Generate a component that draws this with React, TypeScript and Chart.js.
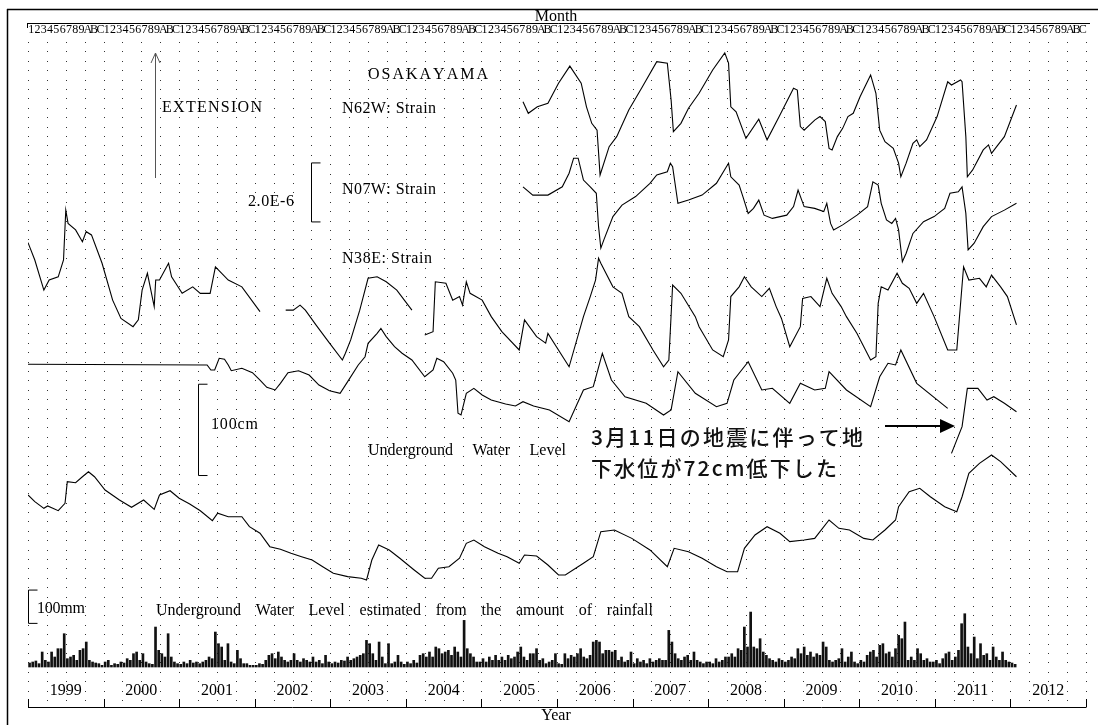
import React, { useEffect, useRef } from "react";
import { Chart, registerables } from "chart.js";

Chart.register(...registerables);

type Pt = [number, number | null];

// ---------- axis labels ----------
const YEAR_LABELS = [1999, 2000, 2001, 2002, 2003, 2004, 2005, 2006, 2007, 2008, 2009, 2010, 2011, 2012];
const MONTH_MARKS = ["1", "2", "3", "4", "5", "6", "7", "8", "9", "A", "B", "C"];

// ---------- strain series (x 1e-6, relative) : [decimal year, strain] ----------
const N62W_STRAIN: Pt[] = [
  [2005.55, 2.82], [2005.62, 2.43], [2005.74, 2.65], [2005.88, 2.77], [2006.02, 3.45], [2006.17, 4.03],
  [2006.32, 3.45], [2006.39, 2.65], [2006.46, 2.09], [2006.53, 1.86], [2006.57, 0.34], [2006.69, 1.3],
  [2006.79, 1.64], [2006.95, 2.54], [2007.13, 3.33], [2007.32, 4.18], [2007.46, 4.13], [2007.51, 2.88],
  [2007.54, 1.81], [2007.64, 2.09], [2007.74, 2.6], [2007.88, 3.11], [2008.06, 3.9], [2008.22, 4.48],
  [2008.27, 4.13], [2008.3, 2.65], [2008.37, 2.48], [2008.5, 1.58], [2008.67, 2.23], [2008.78, 1.53],
  [2008.94, 2.32], [2009.13, 3.28], [2009.18, 3.22], [2009.22, 1.98], [2009.27, 1.86], [2009.41, 2.2],
  [2009.48, 2.32], [2009.55, 2.15], [2009.6, 1.24], [2009.64, 1.19], [2009.71, 1.64], [2009.78, 1.92],
  [2009.85, 2.32], [2009.92, 2.43], [2010.01, 2.99], [2010.15, 3.73], [2010.22, 3.11], [2010.27, 1.86],
  [2010.34, 1.47], [2010.45, 1.24], [2010.52, 0.74], [2010.55, 0.28], [2010.62, 0.74], [2010.71, 1.41],
  [2010.76, 1.53], [2010.8, 1.3], [2010.89, 1.53], [2011.03, 2.32], [2011.17, 3.5], [2011.22, 3.39],
  [2011.34, 3.56], [2011.36, 3.5], [2011.41, 1.64], [2011.43, 0.28], [2011.5, 0.51], [2011.64, 1.19],
  [2011.71, 1.36], [2011.75, 1.07], [2011.8, 1.24], [2011.92, 1.64], [2012.08, 2.71],
];

const N07W_STRAIN: Pt[] = [
  [2005.55, 2.65], [2005.68, 2.37], [2005.88, 2.37], [2006.07, 2.65], [2006.16, 3.11], [2006.22, 3.62],
  [2006.28, 3.62], [2006.35, 2.88], [2006.44, 2.65], [2006.52, 2.43], [2006.55, 1.3], [2006.58, 0.57],
  [2006.62, 0.85], [2006.74, 1.64], [2006.86, 2.03], [2007.04, 2.32], [2007.23, 2.77], [2007.32, 3.05],
  [2007.46, 3.16], [2007.5, 3.45], [2007.53, 3.33], [2007.6, 2.09], [2007.74, 2.2], [2007.92, 2.37],
  [2008.11, 2.77], [2008.23, 3.28], [2008.27, 3.45], [2008.3, 2.99], [2008.41, 2.71], [2008.46, 2.32],
  [2008.53, 1.75], [2008.6, 1.92], [2008.67, 2.2], [2008.74, 1.69], [2008.85, 1.58], [2009.04, 1.69],
  [2009.13, 1.98], [2009.19, 2.54], [2009.27, 1.98], [2009.41, 1.92], [2009.53, 1.81], [2009.57, 2.09],
  [2009.62, 1.41], [2009.66, 1.19], [2009.78, 1.36], [2009.97, 1.69], [2010.11, 1.98], [2010.18, 2.82],
  [2010.25, 2.71], [2010.29, 2.09], [2010.36, 1.53], [2010.43, 1.41], [2010.48, 1.58], [2010.52, 1.19],
  [2010.57, 0.11], [2010.62, 0.4], [2010.71, 1.07], [2010.85, 1.47], [2010.99, 1.64], [2011.13, 1.92],
  [2011.2, 2.43], [2011.31, 2.48], [2011.36, 2.65], [2011.41, 1.75], [2011.44, 0.51], [2011.52, 0.74],
  [2011.64, 1.3], [2011.75, 1.64], [2011.92, 1.86], [2012.08, 2.09],
];

const N38E_STRAIN: Pt[] = [
  [1999.0, 3.98], [1999.09, 3.39], [1999.21, 2.37], [1999.28, 2.71], [1999.4, 2.82], [1999.47, 3.39],
  [1999.5, 5.08], [1999.53, 4.63], [1999.63, 4.41], [1999.72, 4.01], [1999.77, 4.35], [1999.84, 4.24],
  [1999.98, 3.28], [2000.12, 2.03], [2000.23, 1.41], [2000.39, 1.13], [2000.46, 1.36], [2000.51, 2.37],
  [2000.58, 2.94], [2000.67, 1.81], [2000.69, 2.71], [2000.74, 2.71], [2000.86, 3.28], [2000.9, 2.82],
  [2001.04, 2.26], [2001.18, 2.48], [2001.28, 2.26], [2001.41, 2.26], [2001.48, 3.16], [2001.65, 2.71],
  [2001.83, 2.48], [2002.07, 1.64], [2002.2, null],
  [2002.41, 1.69], [2002.51, 1.69], [2002.6, 1.86], [2002.67, 1.69], [2002.81, 1.19], [2002.99, 0.57],
  [2003.16, 0.0], [2003.2, 0.23], [2003.27, 0.68], [2003.39, 1.69], [2003.5, 2.77], [2003.62, 2.82],
  [2003.74, 2.65], [2003.88, 2.37], [2004.08, 1.69], [2004.17, null],
  [2004.25, 0.85], [2004.36, 0.96], [2004.39, 2.65], [2004.53, 2.6], [2004.62, 2.03], [2004.71, 2.15],
  [2004.75, 1.86], [2004.8, 2.65], [2004.85, 2.26], [2005.01, 2.03], [2005.13, 1.47], [2005.27, 0.96],
  [2005.5, 0.34], [2005.57, 1.36], [2005.73, 0.79], [2005.85, 0.57], [2005.88, 0.9], [2006.16, -0.23],
  [2006.35, 1.47], [2006.44, 2.15], [2006.51, 2.71], [2006.55, 3.45], [2006.58, 3.28], [2006.74, 2.48],
  [2006.86, 2.26], [2006.95, 1.47], [2007.09, 1.13], [2007.27, 0.34], [2007.41, -0.23], [2007.48, 0.0],
  [2007.53, 2.54], [2007.64, 2.26], [2007.83, 1.47], [2007.88, 1.13], [2008.06, 0.34], [2008.2, 0.11],
  [2008.27, 0.68], [2008.3, 2.15], [2008.41, 2.48], [2008.48, 2.82], [2008.57, 2.48], [2008.71, 2.15],
  [2008.81, 2.43], [2008.9, 1.81], [2008.97, 1.41], [2009.08, 0.45], [2009.22, 1.13], [2009.25, 2.09],
  [2009.36, 2.15], [2009.48, 1.81], [2009.57, 2.77], [2009.64, 2.26], [2009.76, 1.81], [2009.83, 1.47],
  [2009.97, 0.9], [2010.15, 0.0], [2010.22, 0.11], [2010.25, 1.92], [2010.29, 2.48], [2010.38, 2.37],
  [2010.5, 2.94], [2010.57, 2.6], [2010.66, 2.43], [2010.76, 1.92], [2010.85, 2.26], [2010.99, 1.47],
  [2011.17, 0.34], [2011.29, 0.34], [2011.38, 3.16], [2011.45, 2.71], [2011.59, 2.77], [2011.68, 2.48],
  [2011.75, 2.88], [2011.87, 2.48], [2011.96, 2.15], [2012.08, 1.19],
];

// ---------- groundwater (cm, relative) ----------
const WATER_LEVEL: Pt[] = [
  [1999.0, 104.8], [2001.37, 104.1], [2001.42, 98.6], [2001.47, 98.6], [2001.53, 111.4], [2001.6, 110.3],
  [2001.65, 104.1], [2001.69, 97.8], [2001.83, 100.4], [2001.97, 95.6], [2002.07, 87.6], [2002.16, 79.6],
  [2002.27, 76.7], [2002.34, 84.0], [2002.44, 95.6], [2002.58, 97.8], [2002.72, 93.1], [2002.85, 82.1],
  [2002.99, 75.9], [2003.13, 73.1], [2003.23, 85.8], [2003.37, 104.1], [2003.46, 113.1], [2003.5, 127.8],
  [2003.62, 138.8], [2003.67, 144.2], [2003.74, 135.1], [2003.85, 124.1], [2003.95, 116.9], [2004.08, 109.5],
  [2004.25, 91.2], [2004.36, 98.6], [2004.41, 111.4], [2004.5, 107.7], [2004.62, 95.0], [2004.66, 87.6],
  [2004.69, 51.2], [2004.73, 49.3], [2004.8, 73.1], [2004.9, 78.5], [2005.01, 71.2], [2005.13, 65.7],
  [2005.32, 61.3], [2005.45, 59.1], [2005.55, 63.9], [2005.69, 59.1], [2005.9, 54.8], [2006.16, 42.0],
  [2006.35, 76.7], [2006.48, 80.3], [2006.6, 116.9], [2006.72, 87.6], [2006.9, 69.3], [2007.18, 62.1],
  [2007.41, 49.3], [2007.51, 54.8], [2007.6, 96.7], [2007.83, 73.1], [2008.11, 58.4], [2008.25, 62.1],
  [2008.34, 87.6], [2008.53, 107.7], [2008.71, 76.7], [2008.85, 78.5], [2009.08, 62.1], [2009.22, 84.0],
  [2009.41, 76.7], [2009.55, 78.5], [2009.6, 96.7], [2009.83, 76.7], [2010.15, 58.4], [2010.27, 91.2],
  [2010.38, 105.9], [2010.48, 104.1], [2010.55, 120.5], [2010.76, 84.0], [2011.17, 56.6], [2011.2, null],
  [2011.22, 7.3], [2011.36, 36.5], [2011.43, 78.5], [2011.57, 78.5], [2011.69, 65.7], [2011.78, 69.3],
  [2011.92, 62.1], [2012.08, 52.9],
];

const ESTIMATED_LEVEL: Pt[] = [
  [1999.0, 93.1], [1999.09, 85.8], [1999.21, 78.5], [1999.26, 81.1], [1999.4, 75.9], [1999.49, 84.0],
  [1999.52, 107.7], [1999.63, 106.6], [1999.72, 113.1], [1999.8, 118.6], [1999.88, 113.1], [2000.02, 98.6],
  [2000.21, 87.6], [2000.37, 79.6], [2000.53, 87.6], [2000.67, 77.4], [2000.74, 93.1], [2000.88, 97.8],
  [2001.0, 89.5], [2001.14, 83.2], [2001.28, 75.9], [2001.44, 65.0], [2001.51, 73.1], [2001.65, 69.3],
  [2001.83, 69.3], [2001.93, 58.4], [2002.07, 51.2], [2002.2, 36.5], [2002.34, 33.6], [2002.48, 29.2],
  [2002.62, 25.5], [2002.76, 21.9], [2002.9, 14.6], [2003.04, 7.3], [2003.23, 3.7], [2003.41, 1.9],
  [2003.48, 0.0], [2003.55, 21.9], [2003.64, 38.3], [2003.78, 32.9], [2003.92, 23.8], [2004.11, 11.0],
  [2004.25, 1.9], [2004.34, 1.9], [2004.43, 12.8], [2004.57, 14.6], [2004.71, 23.8], [2004.8, 40.2],
  [2004.9, 43.8], [2005.04, 36.5], [2005.22, 29.2], [2005.34, 25.5], [2005.5, 18.3], [2005.57, 27.4],
  [2005.73, 26.3], [2005.88, 16.4], [2006.02, 5.5], [2006.11, 5.5], [2006.35, 18.3], [2006.48, 25.5],
  [2006.58, 52.9], [2006.76, 54.8], [2006.99, 45.6], [2007.23, 32.9], [2007.46, 14.6], [2007.55, 34.7],
  [2007.74, 31.0], [2007.92, 23.8], [2008.11, 14.6], [2008.25, 9.1], [2008.39, 9.1], [2008.48, 34.7],
  [2008.62, 49.3], [2008.78, 58.4], [2008.95, 51.2], [2009.08, 42.0], [2009.27, 43.8], [2009.41, 45.6],
  [2009.6, 65.7], [2009.73, 56.6], [2009.87, 54.8], [2010.06, 45.6], [2010.18, 43.8], [2010.34, 54.8],
  [2010.48, 65.7], [2010.52, 80.3], [2010.66, 96.7], [2010.8, 100.4], [2010.94, 91.2], [2011.13, 80.3],
  [2011.29, 74.8], [2011.36, 91.2], [2011.45, 116.9], [2011.59, 127.8], [2011.75, 136.9], [2011.87, 129.6],
  [2012.08, 113.1],
];

// ---------- rainfall (mm, half-month slots) ----------
const RAIN_1999 = [12, 15, 18, 10, 45, 20, 15, 45, 30, 55, 55, 100, 25, 30, 35, 20, 50, 55, 75, 20, 15, 12, 10, 5];
const RAIN_2000 = [15, 20, 5, 10, 8, 15, 12, 25, 20, 40, 45, 20, 40, 15, 10, 8, 120, 50, 40, 30, 100, 30, 15, 10];
const RAIN_2001 = [8, 15, 10, 20, 12, 15, 10, 15, 20, 30, 25, 105, 70, 60, 20, 70, 15, 10, 50, 25, 10, 10, 5, 5];
const RAIN_2002 = [5, 10, 8, 20, 35, 40, 25, 45, 30, 20, 15, 20, 40, 20, 15, 25, 20, 15, 30, 15, 20, 10, 35, 15];
const RAIN_2003 = [10, 15, 12, 20, 18, 30, 20, 25, 30, 35, 40, 80, 70, 40, 20, 75, 30, 10, 70, 10, 15, 35, 15, 8];
const RAIN_2004 = [15, 10, 20, 12, 35, 40, 30, 45, 30, 60, 55, 40, 45, 50, 35, 60, 45, 30, 140, 55, 40, 30, 15, 15];
const RAIN_2005 = [25, 15, 30, 20, 35, 20, 30, 20, 35, 25, 30, 45, 60, 30, 20, 40, 40, 55, 20, 25, 10, 15, 20, 40];
const RAIN_2006 = [10, 8, 40, 25, 35, 30, 40, 55, 30, 25, 35, 75, 80, 75, 40, 50, 50, 45, 50, 20, 30, 15, 20, 45];
const RAIN_2007 = [10, 25, 15, 20, 10, 25, 15, 20, 25, 20, 20, 110, 75, 40, 25, 20, 30, 35, 20, 45, 20, 15, 10, 15];
const RAIN_2008 = [15, 10, 25, 15, 20, 30, 30, 40, 30, 55, 50, 120, 60, 165, 60, 55, 85, 45, 35, 25, 20, 15, 25, 20];
const RAIN_2009 = [15, 20, 30, 25, 55, 40, 60, 35, 45, 30, 40, 35, 75, 60, 20, 15, 20, 25, 55, 15, 30, 45, 15, 10];
const RAIN_2010 = [20, 15, 35, 45, 50, 30, 65, 70, 40, 45, 30, 55, 95, 85, 135, 20, 30, 20, 55, 40, 20, 25, 15, 15];
const RAIN_2011 = [20, 10, 25, 40, 45, 20, 30, 50, 130, 160, 60, 40, 90, 25, 70, 35, 40, 20, 60, 30, 20, 45, 20, 15];
const RAIN_2012 = [12, 8];
const RAIN_BY_YEAR: [number, number[]][] = [
  [1999, RAIN_1999], [2000, RAIN_2000], [2001, RAIN_2001], [2002, RAIN_2002], [2003, RAIN_2003],
  [2004, RAIN_2004], [2005, RAIN_2005], [2006, RAIN_2006], [2007, RAIN_2007], [2008, RAIN_2008],
  [2009, RAIN_2009], [2010, RAIN_2010], [2011, RAIN_2011], [2012, RAIN_2012],
];

// ---------- layout ----------
const CW = 1098;
const CH = 725;
const AREA_TOP = 40;
const AREA_BOTTOM = 700;
const SERIF = '"Liberation Serif", "Times New Roman", serif';
const JP = '"Noto Sans CJK JP", "Noto Sans", sans-serif';

function stackedAxis(zeroPx: number, pxPerUnit: number) {
  return {
    type: "linear" as const,
    display: false,
    min: -(AREA_BOTTOM - zeroPx) / pxPerUnit,
    max: (zeroPx - AREA_TOP) / pxPerUnit,
  };
}

function toXY(s: Pt[]) {
  return s.map(([x, y]) => ({ x, y }));
}

function fitText(ctx: CanvasRenderingContext2D, text: string, x: number, y: number, width: number, font: string, mode: "char" | "word" = "char") {
  ctx.font = font;
  const parts = mode === "word" ? text.split(" ") : Array.from(text);
  const widths = parts.map((p) => ctx.measureText(p).width);
  const total = widths.reduce((a, b) => a + b, 0);
  const gap = parts.length > 1 ? (width - total) / (parts.length - 1) : 0;
  let cx = x;
  ctx.textAlign = "left";
  parts.forEach((p, i) => {
    ctx.fillText(p, cx, y);
    cx += widths[i] + gap;
  });
}

const decorPlugin = {
  id: "decor",
  beforeDatasetsDraw(chart: any) {
    const ctx: CanvasRenderingContext2D = chart.ctx;
    const xs = chart.scales.x;
    ctx.save();
    ctx.fillStyle = "#333";
    for (let q = 0; q <= 56; q++) {
      const x = Math.round(xs.getPixelForValue(1999 + q * 0.25));
      for (let y = 42; y <= 701; y += 9.4) ctx.fillRect(x, Math.round(y), 1, 1);
    }
    ctx.restore();
  },
  afterDraw(chart: any) {
    const ctx: CanvasRenderingContext2D = chart.ctx;
    const xs = chart.scales.x;
    const px = (v: number) => xs.getPixelForValue(v);
    ctx.save();
    ctx.strokeStyle = "#000";
    ctx.fillStyle = "#000";
    ctx.textBaseline = "middle";

    // outer frame (top & left)
    ctx.lineWidth = 1.5;
    ctx.beginPath();
    ctx.moveTo(7, 9.5);
    ctx.lineTo(CW, 9.5);
    ctx.moveTo(7.5, 9);
    ctx.lineTo(7.5, CH);
    ctx.stroke();

    // month header
    ctx.font = `16px ${SERIF}`;
    ctx.textAlign = "center";
    ctx.fillText("Month", 556, 17);
    ctx.lineWidth = 1;
    ctx.beginPath();
    ctx.moveTo(px(1999) - 1, 23.5);
    ctx.lineTo(px(2013) + 4, 23.5);
    ctx.moveTo(px(1999) - 0.5, 23.5);
    ctx.lineTo(px(1999) - 0.5, 28);
    ctx.stroke();
    ctx.font = `12px ${SERIF}`;
    for (const yr of YEAR_LABELS) {
      MONTH_MARKS.forEach((m, i) => {
        ctx.fillText(m, px(yr + (i + 0.5) / 12), 29.5);
      });
    }

    // year axis
    ctx.beginPath();
    ctx.moveTo(px(1999), 707.5);
    ctx.lineTo(px(2013), 707.5);
    for (let yr = 1999; yr <= 2013; yr++) {
      const x = Math.round(px(yr)) + 0.5;
      ctx.moveTo(x, 699);
      ctx.lineTo(x, 707.5);
    }
    ctx.stroke();
    ctx.font = `16px ${SERIF}`;
    ctx.textAlign = "center";
    for (const yr of YEAR_LABELS) ctx.fillText(String(yr), px(yr + 0.5), 691);
    ctx.fillText("Year", 556, 716);

    // extension arrow
    ctx.strokeStyle = "#555";
    ctx.beginPath();
    ctx.moveTo(155.5, 53);
    ctx.lineTo(155.5, 178);
    ctx.moveTo(151, 63);
    ctx.lineTo(155.5, 53);
    ctx.lineTo(160, 63);
    ctx.stroke();
    ctx.strokeStyle = "#000";

    // labels
    fitText(ctx, "EXTENSION", 162, 108, 100, `16px ${SERIF}`);
    fitText(ctx, "OSAKAYAMA", 368, 75, 120, `16px ${SERIF}`);
    fitText(ctx, "N62W: Strain", 342, 109, 94, `16px ${SERIF}`);
    fitText(ctx, "N07W: Strain", 342, 190, 94, `16px ${SERIF}`);
    fitText(ctx, "N38E: Strain", 342, 259, 90, `16px ${SERIF}`);
    fitText(ctx, "2.0E-6", 248, 202, 46, `16px ${SERIF}`);
    fitText(ctx, "100cm", 211, 425, 47, `16px ${SERIF}`);
    fitText(ctx, "Underground Water Level", 368, 451, 198, `16px ${SERIF}`, "word");
    fitText(ctx, "100mm", 37, 609, 48, `16px ${SERIF}`);
    fitText(ctx, "Underground Water Level estimated from the amount of rainfall", 156, 611, 497, `16px ${SERIF}`, "word");

    // scale brackets drawn through the series axes
    const bracket = (x: number, y1: number, y2: number) => {
      const xx = Math.round(x) + 0.5;
      ctx.beginPath();
      ctx.moveTo(xx + 9, y1);
      ctx.lineTo(xx, y1);
      ctx.lineTo(xx, y2);
      ctx.lineTo(xx + 9, y2);
      ctx.stroke();
    };
    const sN07 = chart.scales.yN07W;
    bracket(311, sN07.getPixelForValue(3.46), sN07.getPixelForValue(1.46));
    const sW = chart.scales.yWater;
    bracket(198, sW.getPixelForValue(83), sW.getPixelForValue(-17));
    const sR = chart.scales.yRain;
    bracket(28, sR.getPixelForValue(231), sR.getPixelForValue(131));

    // Japanese annotation + arrow
    ctx.fillStyle = "#111";
    fitText(ctx, "3月11日の地震に伴って地", 591, 437, 272, `500 21px ${JP}`);
    fitText(ctx, "下水位が72cm低下した", 591, 468, 246, `500 21px ${JP}`);
    ctx.strokeStyle = "#000";
    ctx.lineWidth = 2;
    ctx.beginPath();
    ctx.moveTo(885, 426);
    ctx.lineTo(942, 426);
    ctx.stroke();
    ctx.fillStyle = "#000";
    ctx.beginPath();
    ctx.moveTo(955, 426);
    ctx.lineTo(940, 419);
    ctx.lineTo(940, 433);
    ctx.closePath();
    ctx.fill();
    ctx.restore();
  },
};

export default function App() {
  const ref = useRef<HTMLCanvasElement | null>(null);
  useEffect(() => {
    if (!ref.current) return;
    const rain: { x: number; y: number }[] = [];
    for (const [yr, vals] of RAIN_BY_YEAR) {
      vals.forEach((v, i) => rain.push({ x: yr + (i + 0.5) / 24, y: v }));
    }
    const lineStyle = {
      type: "line" as const,
      borderColor: "#000",
      borderWidth: 1.1,
      pointRadius: 0,
      tension: 0,
      spanGaps: false,
      fill: false,
    };
    const chart = new Chart(ref.current, {
      type: "line",
      data: {
        datasets: [
          { ...lineStyle, label: "N62W: Strain", data: toXY(N62W_STRAIN), yAxisID: "yN62W" },
          { ...lineStyle, label: "N07W: Strain", data: toXY(N07W_STRAIN), yAxisID: "yN07W" },
          { ...lineStyle, label: "N38E: Strain", data: toXY(N38E_STRAIN), yAxisID: "yN38E" },
          { ...lineStyle, label: "Underground Water Level", data: toXY(WATER_LEVEL), yAxisID: "yWater" },
          { ...lineStyle, label: "Estimated Water Level", data: toXY(ESTIMATED_LEVEL), yAxisID: "yEst" },
          {
            type: "bar" as const,
            label: "Rainfall",
            data: rain,
            yAxisID: "yRain",
            backgroundColor: "#111",
            borderWidth: 0,
            barThickness: 2,
            grouped: false,
          } as any,
        ],
      },
      options: {
        animation: false,
        responsive: false,
        maintainAspectRatio: false,
        devicePixelRatio: 1,
        events: [],
        layout: { padding: { left: 28, right: 12, top: AREA_TOP, bottom: CH - AREA_BOTTOM } },
        plugins: { legend: { display: false }, tooltip: { enabled: false }, title: { display: false } },
        scales: {
          x: { type: "linear", min: 1999, max: 2013, display: false, offset: false },
          yN62W: stackedAxis(185, 29.5),
          yN07W: stackedAxis(265, 29.5),
          yN38E: stackedAxis(360, 29.5),
          yWater: stackedAxis(460, 0.913),
          yEst: stackedAxis(580, 0.913),
          yRain: stackedAxis(667, 0.333),
        },
      },
      plugins: [decorPlugin],
    } as any);
    return () => chart.destroy();
  }, []);
  return (
    <div style={{ position: "absolute", left: 0, top: 0, width: CW, height: CH, background: "#fff" }}>
      <canvas ref={ref} width={CW} height={CH} style={{ display: "block", width: CW, height: CH }} />
    </div>
  );
}
